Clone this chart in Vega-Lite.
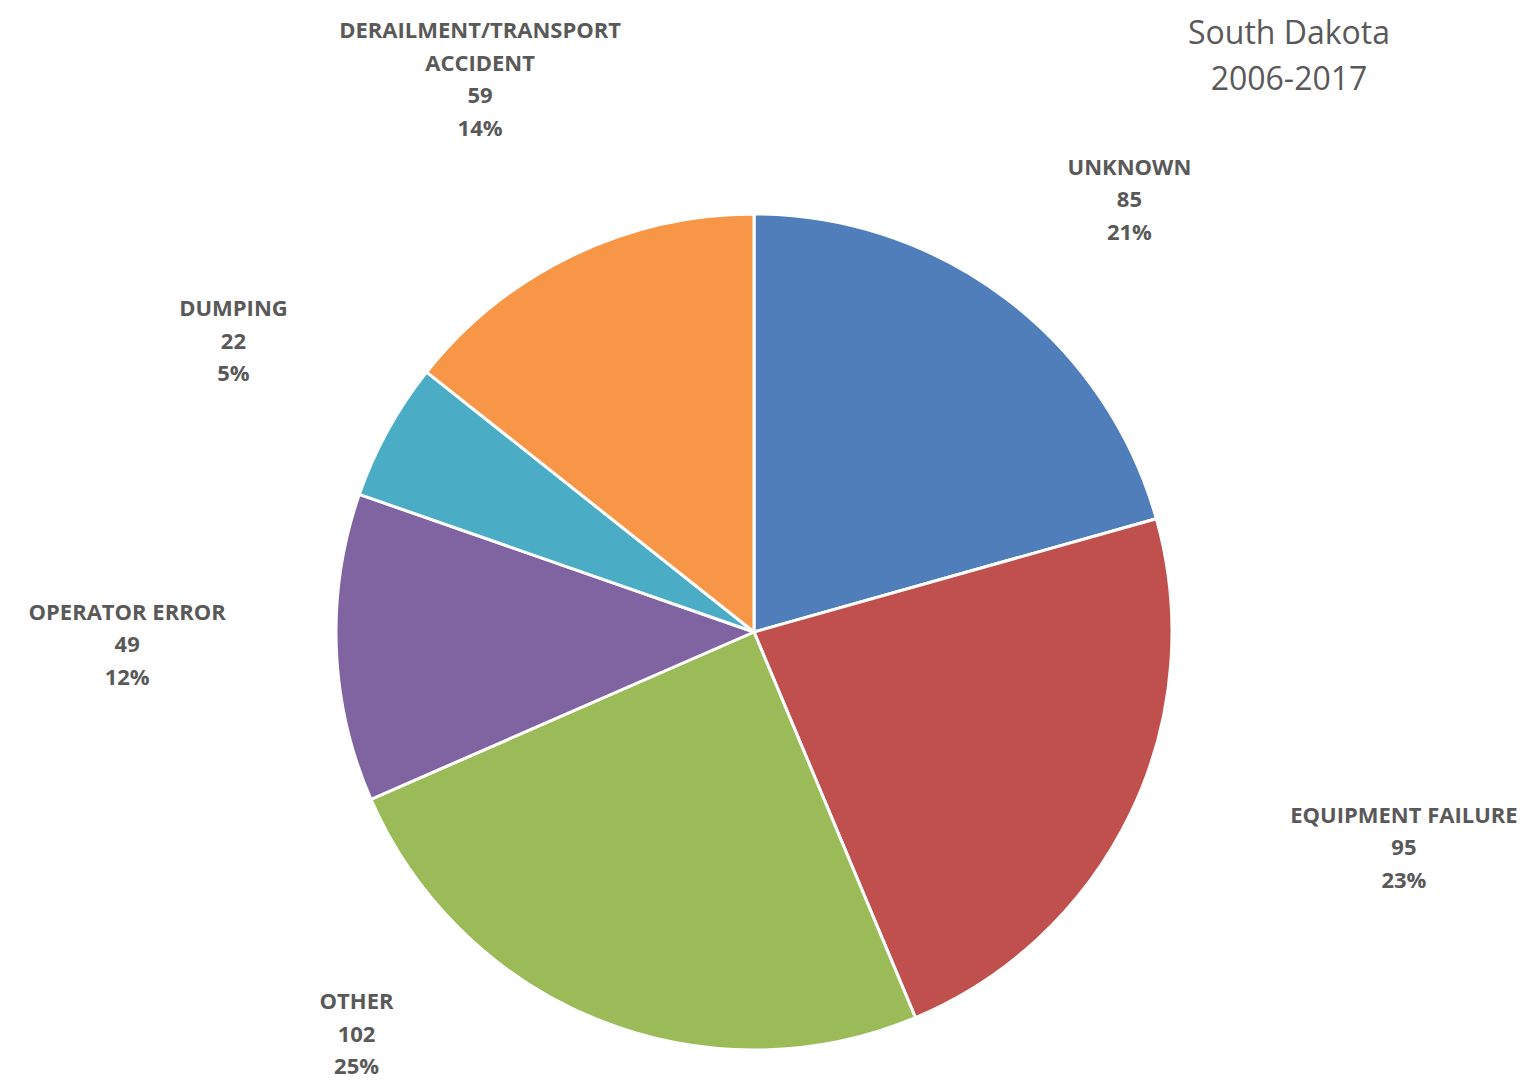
{
  "$schema": "https://vega.github.io/schema/vega-lite/v6.json",
  "width": 1508,
  "height": 900,
  "autosize": "none",
  "padding": {"left": 0, "top": 182, "right": 29, "bottom": 0},
  "background": "white",
  "config": {
    "view": {"stroke": null},
    "text": {"font": "Open Sans", "fontSize": 22, "fontWeight": "bold", "fill": "#595959", "lineBreak": "\n", "lineHeight": 32.5, "align": "center", "baseline": "middle", "dy": -32.5}
  },
  "title": {
    "text": ["South Dakota", "2006-2017"],
    "anchor": "middle",
    "frame": "group",
    "align": "center",
    "dx": 535,
    "offset": -77,
    "font": "Open Sans",
    "fontSize": 32,
    "fontWeight": "normal",
    "lineHeight": 46,
    "color": "#595959"
  },
  "data": {
    "values": [
      {"order": 1, "cause": "UNKNOWN", "count": 85, "pct": "21%"},
      {"order": 2, "cause": "EQUIPMENT FAILURE", "count": 95, "pct": "23%"},
      {"order": 3, "cause": "OTHER", "count": 102, "pct": "25%"},
      {"order": 4, "cause": "OPERATOR ERROR", "count": 49, "pct": "12%"},
      {"order": 5, "cause": "DUMPING", "count": 22, "pct": "5%"},
      {"order": 6, "cause": "DERAILMENT/TRANSPORT ACCIDENT", "count": 59, "pct": "14%"}
    ]
  },
  "transform": [
    {"calculate": "replace(datum.cause, '/TRANSPORT ', '/TRANSPORT\\n') + '\\n' + datum.count + '\\n' + datum.pct", "as": "label"},
    {"stack": "count", "groupby": [], "sort": [{"field": "order", "order": "ascending"}], "as": ["start", "end"]}
  ],
  "layer": [
    {
      "mark": {"type": "arc", "outerRadius": 418, "stroke": "white", "strokeWidth": 3},
      "encoding": {
        "theta": {"field": "count", "type": "quantitative", "stack": true},
        "order": {"field": "order", "type": "quantitative"},
        "color": {
          "field": "cause",
          "type": "nominal",
          "scale": {
            "domain": ["UNKNOWN", "EQUIPMENT FAILURE", "OTHER", "OPERATOR ERROR", "DUMPING", "DERAILMENT/TRANSPORT ACCIDENT"],
            "range": ["#4F7EBB", "#C0504D", "#9BBB59", "#8064A2", "#4BACC6", "#F79646"]
          },
          "legend": null
        }
      }
    },
    {
      "transform": [{"filter": "datum.cause === 'UNKNOWN'"}],
      "mark": {"type": "text", "radius": 572, "thetaOffset": 0.716},
      "encoding": {"theta": {"field": "start", "type": "quantitative"}, "text": {"field": "label", "type": "nominal"}}
    },
    {
      "transform": [{"filter": "datum.cause === 'EQUIPMENT FAILURE'"}],
      "mark": {"type": "text", "radius": 685, "thetaOffset": 0.596},
      "encoding": {"theta": {"field": "start", "type": "quantitative"}, "text": {"field": "label", "type": "nominal"}}
    },
    {
      "transform": [{"filter": "datum.cause === 'OTHER'"}],
      "mark": {"type": "text", "radius": 566, "thetaOffset": 1.175},
      "encoding": {"theta": {"field": "start", "type": "quantitative"}, "text": {"field": "label", "type": "nominal"}}
    },
    {
      "transform": [{"filter": "datum.cause === 'OPERATOR ERROR'"}],
      "mark": {"type": "text", "radius": 627, "thetaOffset": 0.391},
      "encoding": {"theta": {"field": "start", "type": "quantitative"}, "text": {"field": "label", "type": "nominal"}}
    },
    {
      "transform": [{"filter": "datum.cause === 'DUMPING'"}],
      "mark": {"type": "text", "radius": 596, "thetaOffset": 0.173},
      "encoding": {"theta": {"field": "start", "type": "quantitative"}, "text": {"field": "label", "type": "nominal"}}
    },
    {
      "transform": [{"filter": "datum.cause === 'DERAILMENT/TRANSPORT ACCIDENT'"}],
      "mark": {"type": "text", "radius": 616, "thetaOffset": 0.439, "dy": -48.75},
      "encoding": {"theta": {"field": "start", "type": "quantitative"}, "text": {"field": "label", "type": "nominal"}}
    }
  ]
}
